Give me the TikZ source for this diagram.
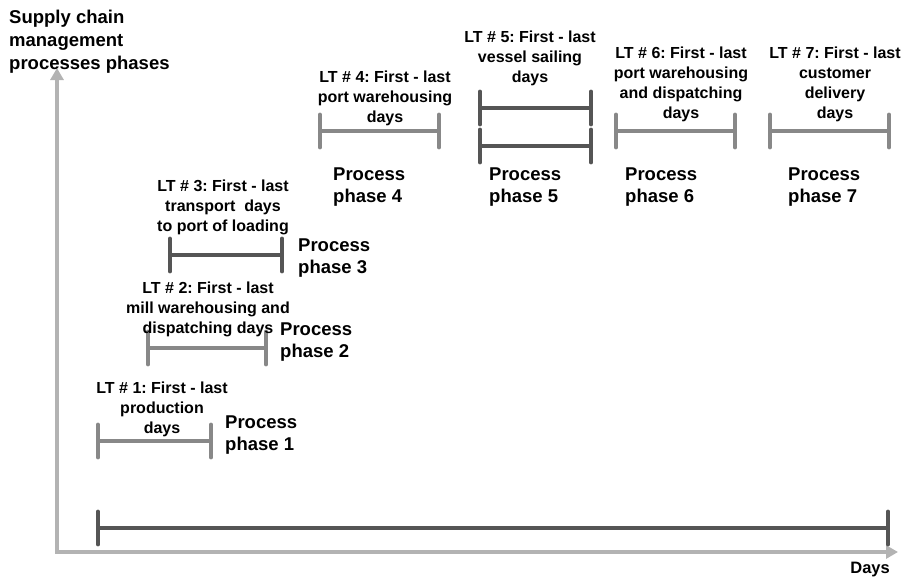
\documentclass[tikz,border=0pt]{standalone}
\usepackage{fontspec}
\setmainfont{Liberation Sans}
\usetikzlibrary{arrows.meta}
\definecolor{axisgray}{HTML}{B3B3B3}
\definecolor{darkbar}{HTML}{555555}
\definecolor{lightbar}{HTML}{888888}
\frenchspacing
\begin{document}
\frenchspacing
\begin{tikzpicture}[x=1pt,y=-1pt,
  axis/.style={draw=axisgray, line width=4.5pt, line join=miter,
    {Triangle[width=13pt,length=12pt]}-{Triangle[width=13pt,length=12pt]}},
  span/.style={line width=4pt,
    {Bar[width=33pt,line width=3.8pt,round]}-{Bar[width=33pt,line width=3.8pt,round]}},
  darkspan/.style={span, draw=darkbar},
  lightspan/.style={span, draw=lightbar},
  ltlabel/.style={anchor=north, align=center, inner sep=0pt,
    font=\bfseries\fontsize{16}{20}\selectfont},
  phaselabel/.style={anchor=north west, align=left, inner sep=0pt,
    font=\bfseries\fontsize{18.5}{22}\selectfont},
  axislabel/.style={inner sep=0pt, align=left,
    font=\bfseries\fontsize{18.5}{23}\selectfont}]
\useasboundingbox (0,0) rectangle (909,582);

% axes
\coordinate (ytip) at (57,68);
\coordinate (orig) at (57,552);
\coordinate (xtip) at (898,552);
\draw[axis] (ytip) -- (orig) -- (xtip);
\node[axislabel, anchor=north west] (ylab) at (9,9.5)
  {Supply chain\\management\\processes phases};
\node[inner sep=0pt, anchor=base east, font=\bfseries\fontsize{16.5}{20}\selectfont] (xlab) at (890,573) {Days};

% total span
\coordinate (t0) at (96,528);
\coordinate (t1) at (890,528);
\draw[darkspan] (t0) -- (t1);

% phase 1
\coordinate (p1a) at (96,441);
\coordinate (p1b) at (213,441);
\draw[lightspan] (p1a) -- (p1b);
\node[ltlabel] (lt1) at (162,382) {LT \# 1: First - last\\production\\days};
\node[phaselabel] (ph1) at (225,416) {Process\\phase 1};

% phase 2
\coordinate (p2a) at (146,348);
\coordinate (p2b) at (268,348);
\draw[lightspan] (p2a) -- (p2b);
\node[ltlabel] (lt2) at (208,282) {LT \# 2: First - last\\mill warehousing and\\dispatching days};
\node[phaselabel] (ph2) at (280,323) {Process\\phase 2};

% phase 3
\coordinate (p3a) at (168,255);
\coordinate (p3b) at (284,255);
\draw[darkspan] (p3a) -- (p3b);
\node[ltlabel] (lt3) at (223,180) {LT \# 3: First - last\\transport~ days\\to port of loading};
\node[phaselabel] (ph3) at (298,239) {Process\\phase 3};

% phase 4
\coordinate (p4a) at (318,131);
\coordinate (p4b) at (441,131);
\draw[lightspan] (p4a) -- (p4b);
\node[ltlabel] (lt4) at (385,71) {LT \# 4: First - last\\port warehousing\\days};
\node[phaselabel] (ph4) at (333,168) {Process\\phase 4};

% phase 5
\coordinate (p5a) at (478,108);
\coordinate (p5b) at (593,108);
\coordinate (p5c) at (478,146);
\coordinate (p5d) at (593,146);
\draw[darkspan] (p5a) -- (p5b);
\draw[darkspan] (p5c) -- (p5d);
\node[ltlabel] (lt5) at (530,31) {LT \# 5: First - last\\vessel sailing\\days};
\node[phaselabel] (ph5) at (489,168) {Process\\phase 5};

% phase 6
\coordinate (p6a) at (614,131);
\coordinate (p6b) at (737,131);
\draw[lightspan] (p6a) -- (p6b);
\node[ltlabel] (lt6) at (681,47) {LT \# 6: First - last\\port warehousing\\and dispatching\\days};
\node[phaselabel] (ph6) at (625,168) {Process\\phase 6};

% phase 7
\coordinate (p7a) at (768,131);
\coordinate (p7b) at (891,131);
\draw[lightspan] (p7a) -- (p7b);
\node[ltlabel] (lt7) at (835,47) {LT \# 7: First - last\\customer\\delivery\\days};
\node[phaselabel] (ph7) at (788,168) {Process\\phase 7};
\end{tikzpicture}
\end{document}
